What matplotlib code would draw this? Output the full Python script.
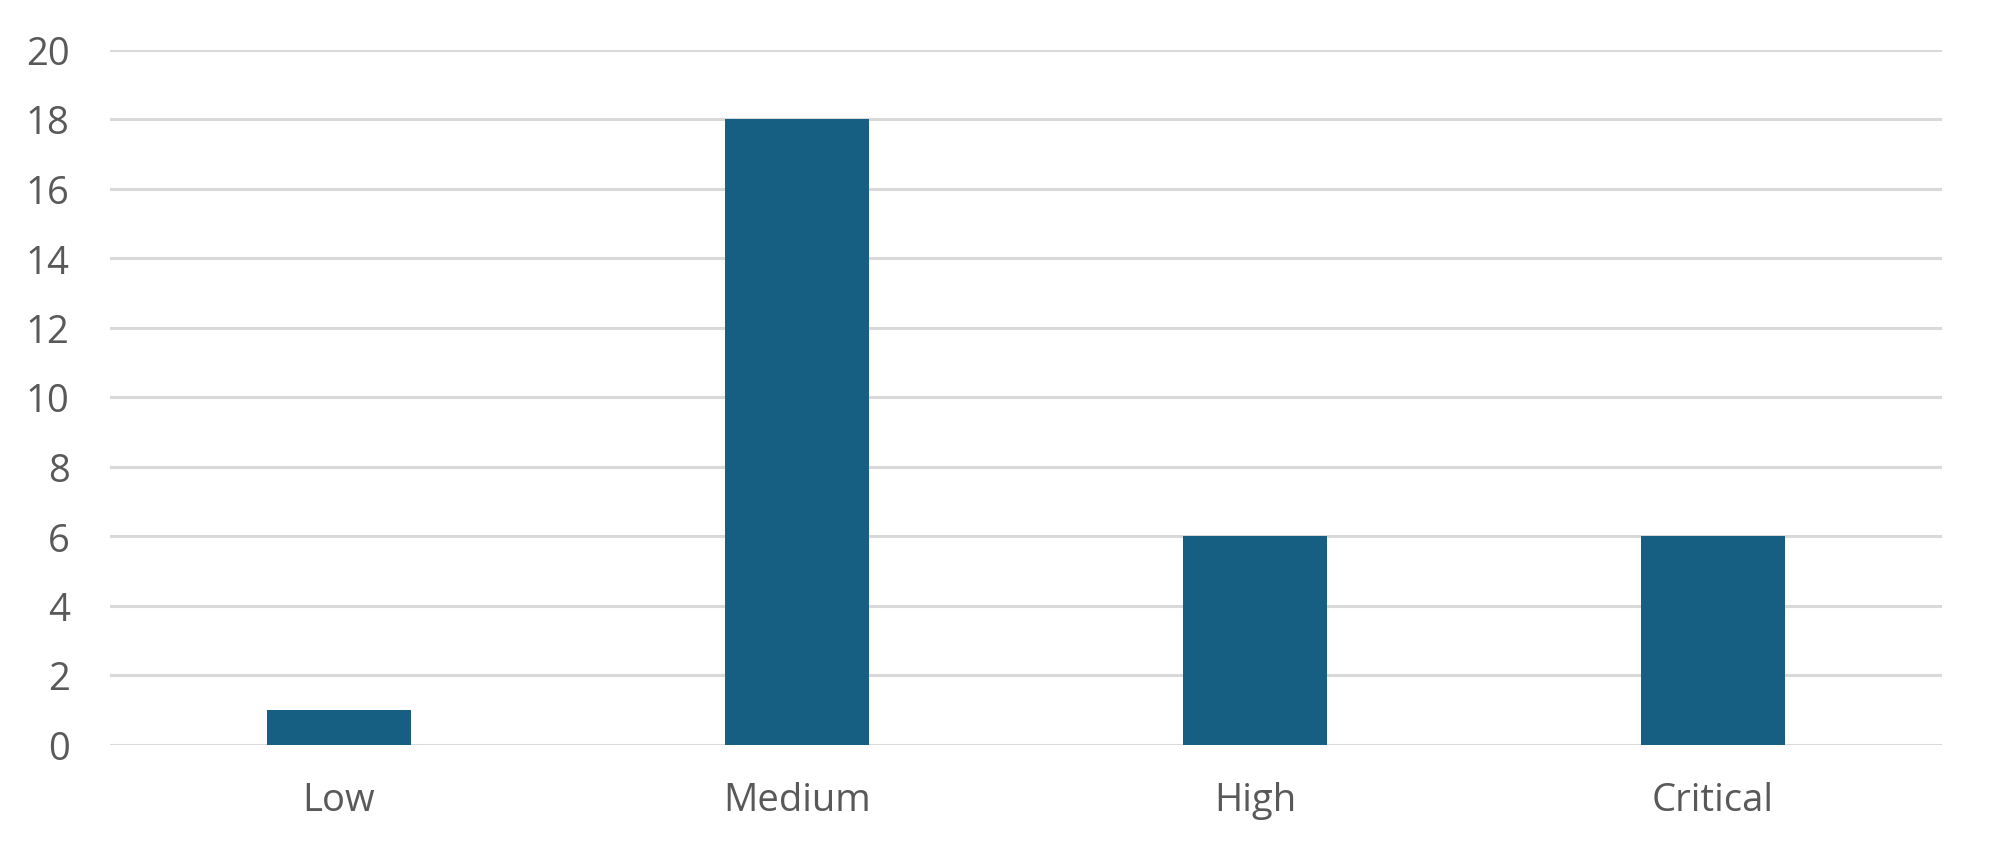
import matplotlib
matplotlib.use("Agg")
import matplotlib.pyplot as plt

categories = ["Low", "Medium", "High", "Critical"]
values = [1, 18, 6, 6]
yticks = list(range(0, 21, 2))

W, H, DPI = 1990, 845, 100
fig = plt.figure(figsize=(W / DPI, H / DPI), dpi=DPI)
left, right, bottom, top = 110, 1942, 745.5, 50.5
ax = fig.add_axes([left / W, 1 - bottom / H, (right - left) / W, (bottom - top) / H])

ax.bar(range(len(categories)), values, width=0.314, color="#175F82", zorder=3)
ax.set_xlim(-0.5, len(categories) - 0.5)
ax.set_ylim(0, 20)
ax.set_yticks(yticks)
ax.set_xticks(range(len(categories)))
ax.set_xticklabels(categories)
ax.yaxis.grid(True, color="#D9D9D9", linewidth=2.2, zorder=0)
ax.set_axisbelow(True)
for s in ax.spines.values():
    s.set_visible(False)
ax.tick_params(axis="both", length=0, labelsize=27.5, labelcolor="#595959")
ax.tick_params(axis="y", pad=29)
ax.tick_params(axis="x", pad=26)
for lab in ax.get_xticklabels() + ax.get_yticklabels():
    lab.set_family(["Open Sans", "DejaVu Sans"])

fig.savefig("out.png", dpi=DPI, facecolor="white")
